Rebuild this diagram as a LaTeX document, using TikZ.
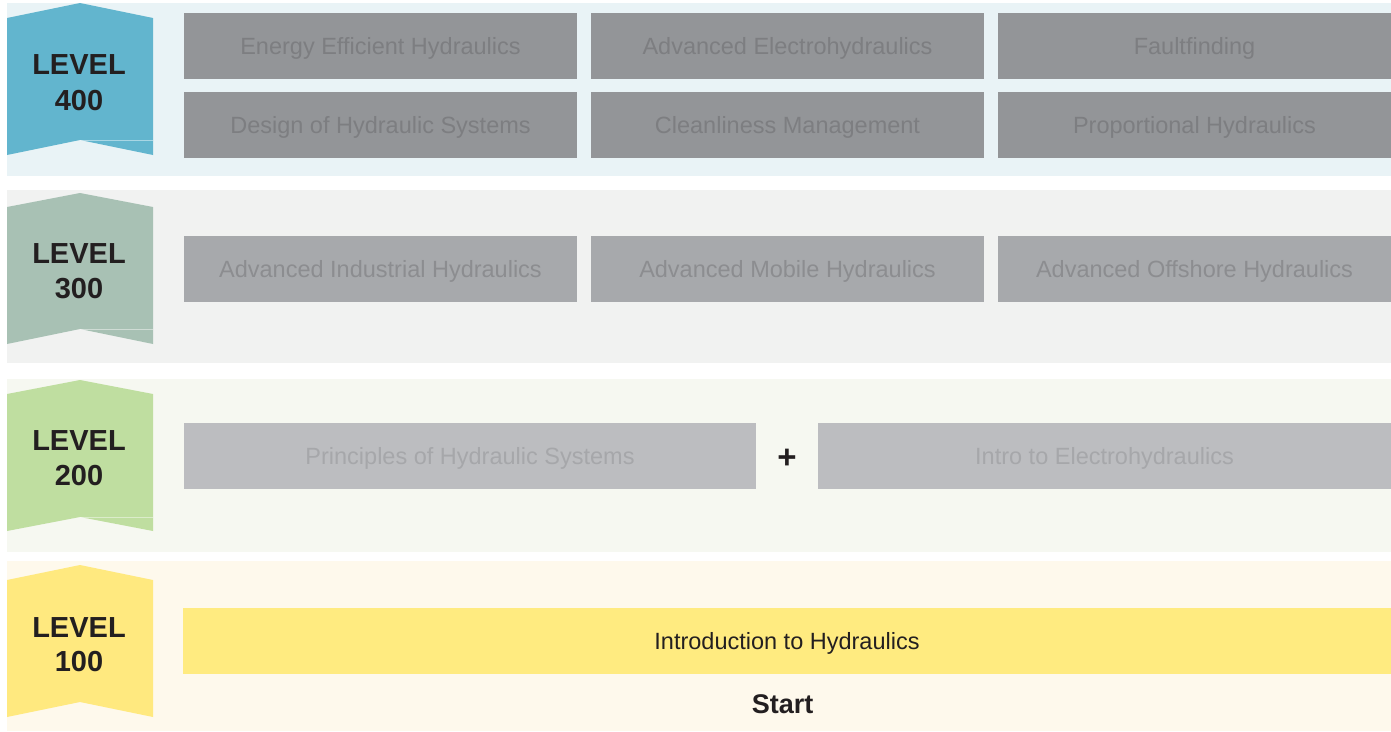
\documentclass[tikz,border=0pt]{standalone}
\usepackage{fontspec}
\setmainfont{Liberation Sans}
\usepackage{tikz}

\definecolor{ink}{HTML}{231F20}
\definecolor{bandFour}{HTML}{E9F3F6}
\definecolor{bandThree}{HTML}{F1F2F1}
\definecolor{bandTwo}{HTML}{F6F8F1}
\definecolor{bandOne}{HTML}{FEF9EC}
\definecolor{ribFour}{HTML}{62B5CE}
\definecolor{ribThree}{HTML}{A8C1B4}
\definecolor{ribTwo}{HTML}{BFDEA0}
\definecolor{ribOne}{HTML}{FFE97F}

\tikzset{
  course/.style={rectangle, inner sep=0pt, minimum height=66pt, minimum width=393pt,
    text height=17pt, text depth=0pt, font=\fontsize{23.5}{28}\selectfont},
  courseFour/.style={course, fill={rgb,255:red,147;green,149;blue,152}, text={rgb,255:red,125;green,126;blue,129}},
  courseThree/.style={course, fill={rgb,255:red,167;green,169;blue,172}, text={rgb,255:red,140;green,141;blue,144}},
  courseTwo/.style={course, fill={rgb,255:red,188;green,189;blue,192}, text={rgb,255:red,166;green,167;blue,170}},
  courseOne/.style={course, fill={rgb,255:red,255;green,235;blue,128}, text=ink},
  levtxt/.style={anchor=base, inner sep=0pt, text=ink, font=\fontsize{29}{35}\selectfont\bfseries},
  notch/.style={white, opacity=.45, line width=.8pt}
}

\begin{document}
\begin{tikzpicture}[x=1pt,y=-1pt]

 \useasboundingbox (0,0) rectangle (1391,731);

 % background bands
 \fill[bandFour]  (7,3)   rectangle (1391,176);
 \fill[bandThree] (7,190) rectangle (1391,363);
 \fill[bandTwo]   (7,379) rectangle (1391,552);
 \fill[bandOne]   (7,561) rectangle (1391,731);

 % ribbons
 \fill[ribFour]  (7,18)  -- (80,3)   -- (153,18)  -- (153,155) -- (80,140) -- (7,155) -- cycle;
 \draw[notch] (80,140) -- (153,140);
 \fill[ribThree] (7,207) -- (80,193) -- (153,207) -- (153,344) -- (80,329) -- (7,344) -- cycle;
 \draw[notch] (80,329) -- (153,329);
 \fill[ribTwo]   (7,394) -- (80,380) -- (153,394) -- (153,531) -- (80,517) -- (7,531) -- cycle;
 \draw[notch] (80,517) -- (153,517);
 \fill[ribOne]   (7,580) -- (80,565) -- (153,580) -- (153,717) -- (80,702) -- (7,717) -- cycle;

 \node[levtxt] (lvFour)    at (79,74)  {LEVEL};
 \node[levtxt] (numFour)   at (79,110) {400};
 \node[levtxt] (lvThree)   at (79,263) {LEVEL};
 \node[levtxt] (numThree)  at (79,298) {300};
 \node[levtxt] (lvTwo)     at (79,450) {LEVEL};
 \node[levtxt] (numTwo)    at (79,485) {200};
 \node[levtxt] (lvOne)     at (79,637) {LEVEL};
 \node[levtxt] (numOne)    at (79,671) {100};

 % level 400
 \node[courseFour] (energy)  at (380.5,46)  {Energy Efficient Hydraulics};
 \node[courseFour] (advelec) at (787.5,46)  {Advanced Electrohydraulics};
 \node[courseFour] (fault)   at (1194.5,46) {Faultfinding};
 \node[courseFour] (design)  at (380.5,125) {Design of Hydraulic Systems};
 \node[courseFour] (clean)   at (787.5,125) {Cleanliness Management};
 \node[courseFour] (prop)    at (1194.5,125) {Proportional Hydraulics};

 % level 300
 \node[courseThree] (indus)    at (380.5,269)  {Advanced Industrial Hydraulics};
 \node[courseThree] (mobile)   at (787.5,269)  {Advanced Mobile Hydraulics};
 \node[courseThree] (offshore) at (1194.5,269) {Advanced Offshore Hydraulics};

 % level 200
 \node[courseTwo, minimum width=572pt] (princ) at (470,456)    {Principles of Hydraulic Systems};
 \node[courseTwo, minimum width=573pt] (intro) at (1104.5,456) {Intro to Electrohydraulics};
 \node[text=ink, inner sep=0pt, font=\fontsize{33}{36}\selectfont\bfseries] (plus) at (787,459) {+};

 % level 100
 \node[courseOne, minimum width=1208pt] (basic) at (787,641) {Introduction to Hydraulics};
 \node[levtxt, font=\fontsize{27}{30}\selectfont\bfseries] (start) at (782.5,713) {Start};

\end{tikzpicture}
\end{document}
